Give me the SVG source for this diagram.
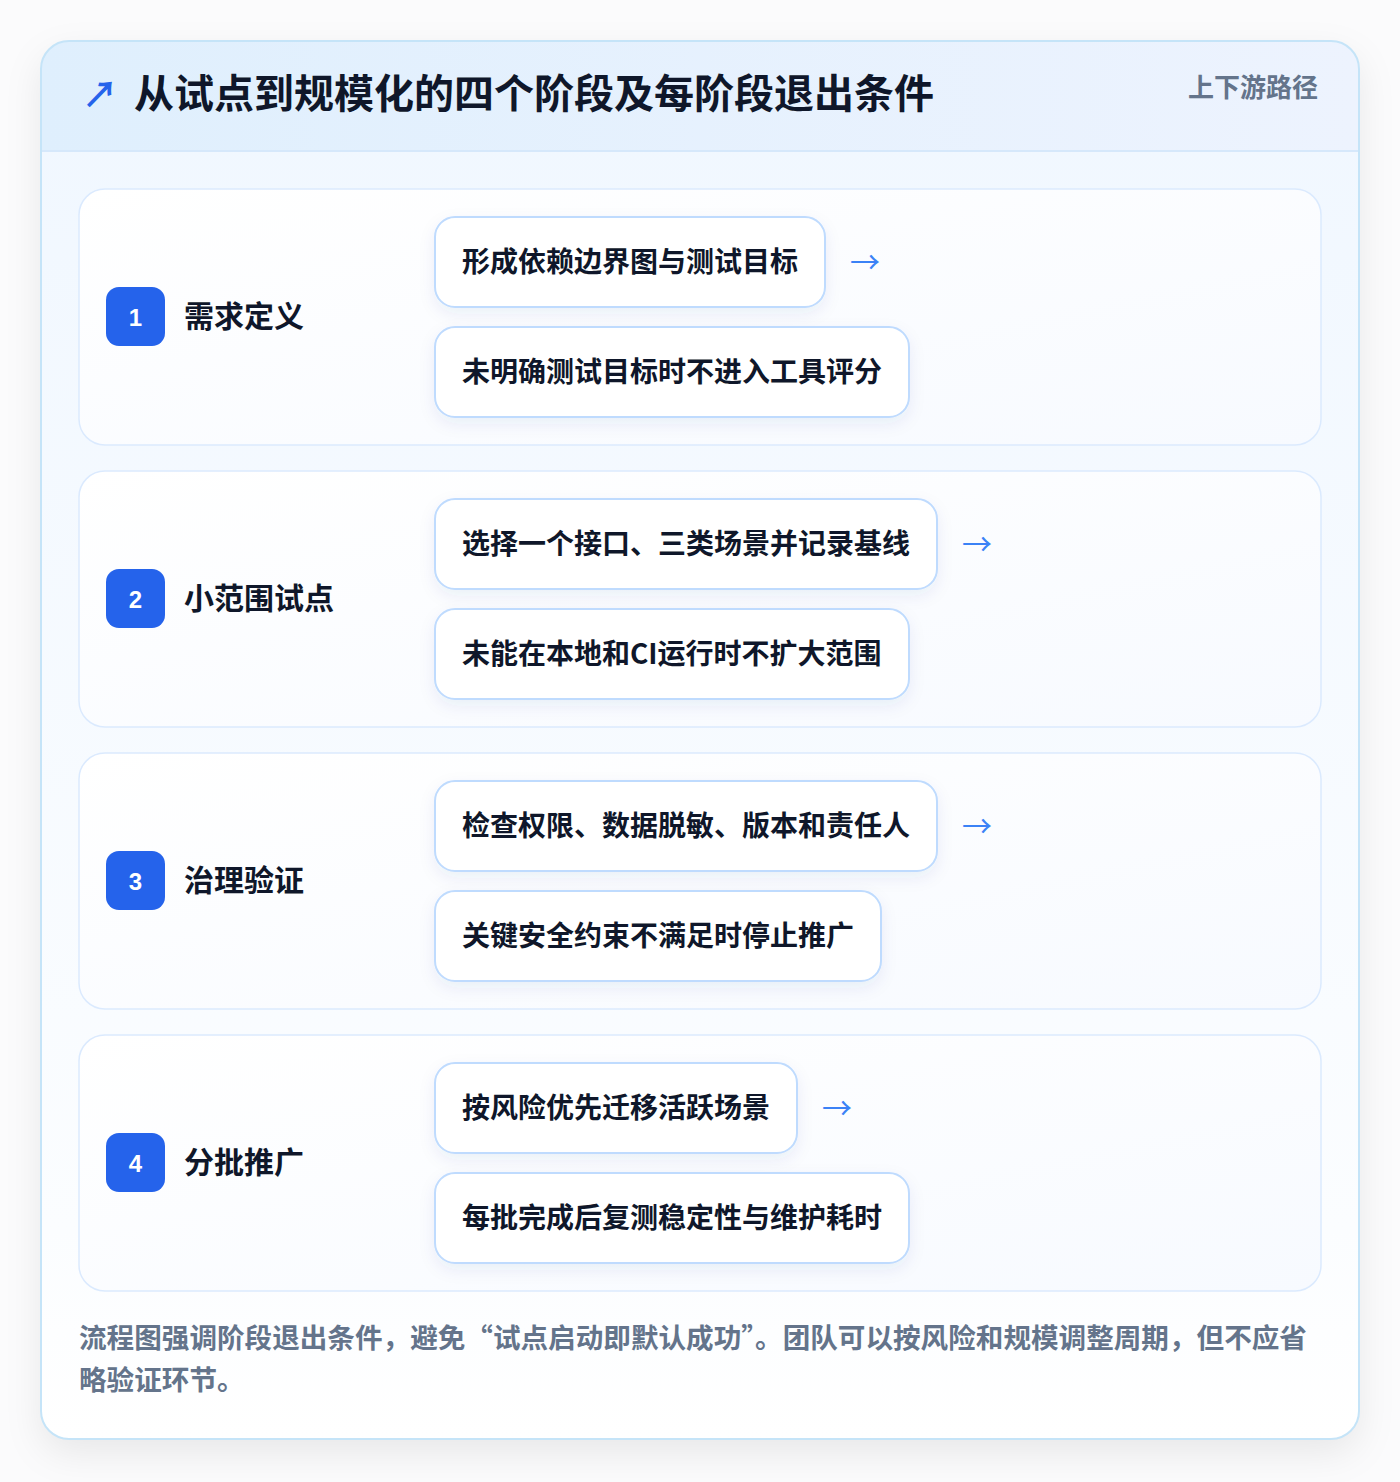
<svg xmlns="http://www.w3.org/2000/svg" width="1400" height="1482" viewBox="0 0 1400 1482">
<defs>
<linearGradient id="hdr" x1="0" y1="0" x2="1" y2="0"><stop offset="0" stop-color="#dfeffd"/><stop offset="1" stop-color="#edf3fe"/></linearGradient>
<linearGradient id="body" x1="0" y1="0" x2="0" y2="1"><stop offset="0" stop-color="#f0f7ff"/><stop offset="0.85" stop-color="#fbfdff"/><stop offset="1" stop-color="#ffffff"/></linearGradient>
<linearGradient id="panel" x1="0" y1="0" x2="1" y2="1"><stop offset="0" stop-color="#ffffff"/><stop offset="1" stop-color="#f7faff"/></linearGradient>
<filter id="cardShadow" x="-10%" y="-10%" width="120%" height="120%"><feDropShadow dx="0" dy="14" stdDeviation="18" flood-color="#0f172a" flood-opacity="0.08"/></filter>
<filter id="boxShadow" x="-10%" y="-20%" width="120%" height="160%"><feDropShadow dx="0" dy="6" stdDeviation="8" flood-color="#1e3a8a" flood-opacity="0.07"/></filter>
<clipPath id="cardClip"><rect x="41" y="41" width="1318" height="1398" rx="28"/></clipPath>
</defs>
<style>
.cjk{font-family:"Noto Sans CJK SC","Noto Sans",sans-serif}
.title{font-size:40px;font-weight:700;fill:#0f172a}
.sub{font-size:26px;font-weight:600;fill:#64748b}
.panel{fill:url(#panel);stroke:#dbeafe;stroke-width:1.5}
.badge{fill:#2563eb}
.num{font-family:"Liberation Sans",Arial,sans-serif;font-size:24px;font-weight:700;fill:#ffffff;text-anchor:middle}
.stage{font-size:30px;font-weight:600;fill:#0f172a}
.box{fill:#ffffff;stroke:#bfdbfe;stroke-width:2;filter:url(#boxShadow)}
.btxt{font-size:28px;font-weight:700;fill:#0f172a}
.arrow{font-family:"Noto Sans CJK SC",sans-serif;font-size:30px;font-weight:400;fill:#3b82f6}
.foot{font-size:27.6px;font-weight:600;fill:#64748b}
</style>
<rect x="0" y="0" width="1400" height="1482" fill="#fbfbfc"/>
<g id="card">
<rect x="41" y="41" width="1318" height="1398" rx="28" fill="url(#body)" filter="url(#cardShadow)"/>
<g clip-path="url(#cardClip)">
<rect x="41" y="41" width="1318" height="110" fill="url(#hdr)"/>
<line x1="41" y1="151" x2="1359" y2="151" stroke="#d6e8fb" stroke-width="2"/>
</g>
<rect x="41" y="41" width="1318" height="1398" rx="28" fill="none" stroke="#c5e4f8" stroke-width="2"/>
</g>
<g id="header">
<text x="82" y="108" font-family="Noto Sans CJK SC,sans-serif" font-size="36" font-weight="700" fill="#2563eb">↗</text>
<text class="cjk title" x="134" y="108">从试点到规模化的四个阶段及每阶段退出条件</text>
<text class="cjk sub" x="1318" y="97" text-anchor="end">上下游路径</text>
</g>
<g id="stage1">
<rect class="panel" x="79" y="189" width="1242" height="256" rx="26"/>
<rect class="badge" x="106" y="287" width="59" height="59" rx="13"/>
<text class="num" x="135.5" y="325.5">1</text>
<text class="cjk stage" x="184" y="327">需求定义</text>
</g>
<g id="s1a"><rect class="box" x="435" y="217" width="390" height="90" rx="20"/><text class="cjk btxt" x="462" y="272">形成依赖边界图与测试目标</text></g>
<g id="s1b"><rect class="box" x="435" y="327" width="474" height="90" rx="20"/><text class="cjk btxt" x="462" y="382">未明确测试目标时不进入工具评分</text></g>
<g id="stage2">
<rect class="panel" x="79" y="471" width="1242" height="256" rx="26"/>
<rect class="badge" x="106" y="569" width="59" height="59" rx="13"/>
<text class="num" x="135.5" y="607.5">2</text>
<text class="cjk stage" x="184" y="609">小范围试点</text>
</g>
<g id="s2a"><rect class="box" x="435" y="499" width="502" height="90" rx="20"/><text class="cjk btxt" x="462" y="554">选择一个接口、三类场景并记录基线</text></g>
<g id="s2b"><rect class="box" x="435" y="609" width="474" height="90" rx="20"/><text class="cjk btxt" x="462" y="664">未能在本地和CI运行时不扩大范围</text></g>
<g id="stage3">
<rect class="panel" x="79" y="753" width="1242" height="256" rx="26"/>
<rect class="badge" x="106" y="851" width="59" height="59" rx="13"/>
<text class="num" x="135.5" y="889.5">3</text>
<text class="cjk stage" x="184" y="891">治理验证</text>
</g>
<g id="s3a"><rect class="box" x="435" y="781" width="502" height="90" rx="20"/><text class="cjk btxt" x="462" y="836">检查权限、数据脱敏、版本和责任人</text></g>
<g id="s3b"><rect class="box" x="435" y="891" width="446" height="90" rx="20"/><text class="cjk btxt" x="462" y="946">关键安全约束不满足时停止推广</text></g>
<g id="stage4">
<rect class="panel" x="79" y="1035" width="1242" height="256" rx="26"/>
<rect class="badge" x="106" y="1133" width="59" height="59" rx="13"/>
<text class="num" x="135.5" y="1171.5">4</text>
<text class="cjk stage" x="184" y="1173">分批推广</text>
</g>
<g id="s4a"><rect class="box" x="435" y="1063" width="362" height="90" rx="20"/><text class="cjk btxt" x="462" y="1118">按风险优先迁移活跃场景</text></g>
<g id="s4b"><rect class="box" x="435" y="1173" width="474" height="90" rx="20"/><text class="cjk btxt" x="462" y="1228">每批完成后复测稳定性与维护耗时</text></g>
<g id="connectors">
<text class="arrow" x="850" y="273">→</text>
<text class="arrow" x="962" y="555">→</text>
<text class="arrow" x="962" y="837">→</text>
<text class="arrow" x="822" y="1119">→</text>
</g>
<g id="footer">
<text class="cjk foot" x="79" y="1348">流程图强调阶段退出条件，避免“试点启动即默认成功”。团队可以按风险和规模调整周期，但不应省</text>
<text class="cjk foot" x="79" y="1390">略验证环节。</text>
</g>
</svg>
